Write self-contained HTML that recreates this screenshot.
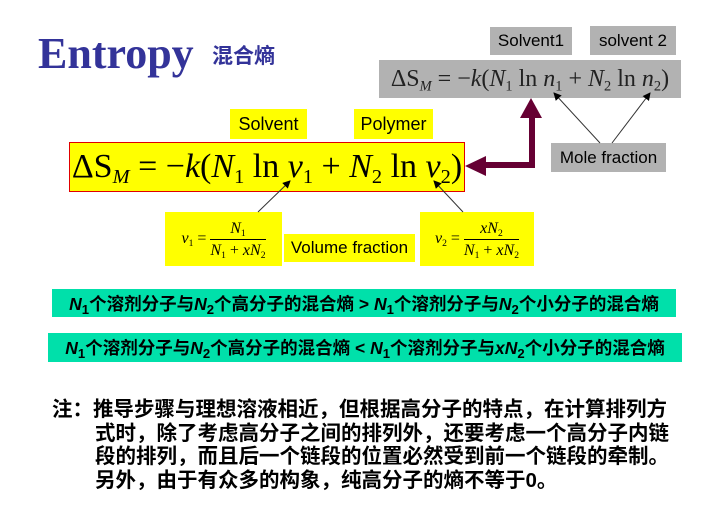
<!DOCTYPE html>
<html><head><meta charset="utf-8"><style>
body{margin:0;width:704px;height:522px;background:#fff;position:relative;overflow:hidden;font-family:"Liberation Sans","Noto Sans CJK SC",sans-serif}
.a{position:absolute}
.box{position:absolute;display:flex;align-items:center;justify-content:center;white-space:nowrap}
.g{background:#b2b2b2;color:#000;font-size:17px}
.y{background:#ffff00;color:#000;font-size:18px}
.m{font-family:"Liberation Serif",serif}
.i{font-style:italic}
sub{font-size:60%;vertical-align:-0.3em;font-style:normal;line-height:0}
.grn{background:#00e0aa;font-weight:bold;font-size:17.5px;color:#000}
.grn sub{font-size:75%}
.frac{display:inline-block;text-align:center;vertical-align:middle;font-size:16px;line-height:21px}
.frac .n{display:block;border-bottom:1px solid #000;padding:0 3px}
.frac .d{display:block}
</style></head><body>
<div class="a" style="left:38px;top:28px;font-family:'Liberation Serif',serif;font-weight:bold;font-size:44px;color:#333399">Entropy</div>
<div class="a" style="left:212px;top:40px;font-size:21px;font-weight:bold;color:#333399">混合熵</div>

<div class="box g" style="left:490px;top:27px;width:82px;height:28px"><span>Solvent1</span></div>
<div class="box g" style="left:590px;top:26px;width:86px;height:29px"><span>solvent 2</span></div>
<div class="box g m" style="left:379px;top:60px;width:302px;height:38px;font-size:24px;color:#222"><span>ΔS<sub class="i">M</sub> = −<i>k</i>(<i>N</i><sub>1</sub> ln <i>n</i><sub>1</sub> + <i>N</i><sub>2</sub> ln <i>n</i><sub>2</sub>)</span></div>

<div class="box y" style="left:230px;top:109px;width:77px;height:30px"><span>Solvent</span></div>
<div class="box y" style="left:354px;top:109px;width:79px;height:30px"><span>Polymer</span></div>
<div class="box y m" style="left:69px;top:142px;width:394px;height:48px;border:1px solid #e00000;font-size:34px"><span>ΔS<sub class="i">M</sub> = −<i>k</i>(<i>N</i><sub>1</sub> ln <i>v</i><sub>1</sub> + <i>N</i><sub>2</sub> ln <i>v</i><sub>2</sub>)</span></div>

<div class="box g" style="left:551px;top:143px;width:115px;height:29px"><span>Mole fraction</span></div>

<div class="box y m" style="left:165px;top:212px;width:117px;height:54px;font-size:16px"><span><i>v</i><sub>1</sub> = <span class="frac"><span class="n"><i>N</i><sub>1</sub></span><span class="d"><i>N</i><sub>1</sub> + <i>xN</i><sub>2</sub></span></span></span></div>
<div class="box y" style="left:284px;top:234px;width:131px;height:28px;font-size:17px"><span>Volume fraction</span></div>
<div class="box y m" style="left:420px;top:212px;width:114px;height:54px;font-size:16px"><span><i>v</i><sub>2</sub> = <span class="frac"><span class="n"><i>xN</i><sub>2</sub></span><span class="d"><i>N</i><sub>1</sub> + <i>xN</i><sub>2</sub></span></span></span></div>

<svg class="a" style="left:0;top:0" width="704" height="522">
<defs><marker id="ah" markerWidth="8" markerHeight="8" refX="7" refY="4" orient="auto" markerUnits="userSpaceOnUse"><path d="M0,0 L8,4 L0,8 z" fill="#000"/></marker></defs>
<polyline points="485,165 532,165 532,117" fill="none" stroke="#660033" stroke-width="6"/>
<polygon points="465,166 486,156 486,176" fill="#660033"/>
<polygon points="531,98 520,118 542,118" fill="#660033"/>
<line x1="600" y1="143" x2="554" y2="93" stroke="#333" stroke-width="1" marker-end="url(#ah)"/>
<line x1="612" y1="143" x2="650" y2="93" stroke="#333" stroke-width="1" marker-end="url(#ah)"/>
<line x1="258" y1="212" x2="290" y2="181" stroke="#333" stroke-width="1" marker-end="url(#ah)"/>
<line x1="463" y1="212" x2="434" y2="181" stroke="#333" stroke-width="1" marker-end="url(#ah)"/>
</svg>

<div class="box grn" style="left:52px;top:289px;width:624px;height:28px"><span><i>N</i><sub>1</sub>个溶剂分子与<i>N</i><sub>2</sub>个高分子的混合熵 &gt; <i>N</i><sub>1</sub>个溶剂分子与<i>N</i><sub>2</sub>个小分子的混合熵</span></div>
<div class="box grn" style="left:48px;top:333px;width:634px;height:29px"><span><i>N</i><sub>1</sub>个溶剂分子与<i>N</i><sub>2</sub>个高分子的混合熵 &lt; <i>N</i><sub>1</sub>个溶剂分子与<i>xN</i><sub>2</sub>个小分子的混合熵</span></div>

<div class="a" style="left:52px;top:398px;font-size:20.5px;font-weight:bold;line-height:23.5px;color:#000;white-space:nowrap">
<div>注：推导步骤与理想溶液相近，但根据高分子的特点，在计算排列方</div>
<div style="padding-left:43px">式时，除了考虑高分子之间的排列外，还要考虑一个高分子内链</div>
<div style="padding-left:43px">段的排列，而且后一个链段的位置必然受到前一个链段的牵制。</div>
<div style="padding-left:43px">另外，由于有众多的构象，纯高分子的熵不等于0。</div>
</div>
</body></html>
